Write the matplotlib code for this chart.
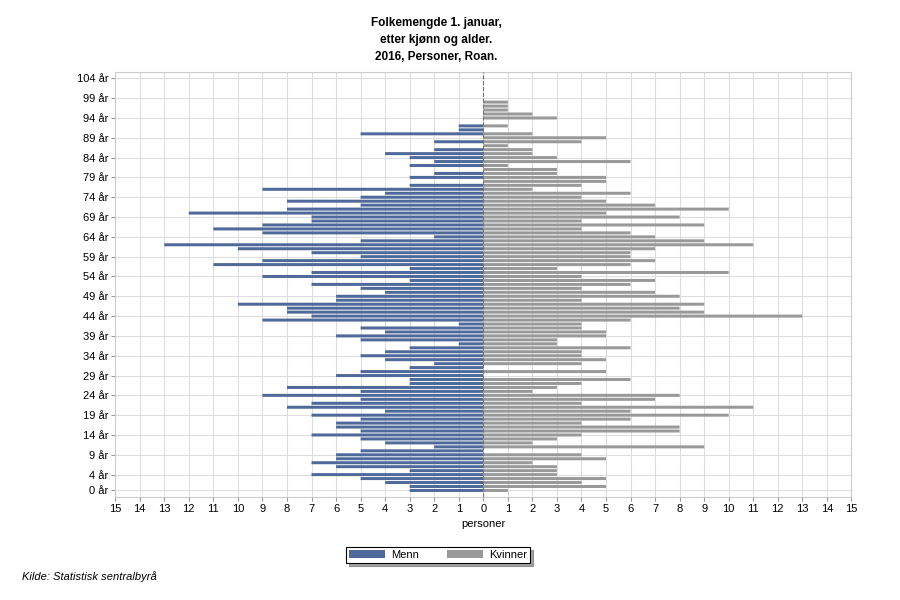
import matplotlib.pyplot as plt
import numpy as np

plt.rcParams['font.family'] = ['Liberation Sans', 'DejaVu Sans']

# Alder 0..104
ages = np.arange(0, 105)

# Antall menn per alder (0..98), resten 0
menn_vals = [3, 3, 4, 5, 7, 3, 6, 7, 6, 6,
             5, 2, 4, 5, 7, 5, 6, 6, 5, 7,
             4, 8, 7, 5, 9, 5, 8, 3, 3, 6,
             5, 3, 2, 4, 5, 4, 3, 1, 5, 6,
             4, 5, 1, 9, 7, 8, 8, 10, 6, 6,
             4, 5, 7, 3, 9, 7, 3, 11, 9, 5,
             7, 10, 13, 5, 2, 9, 11, 9, 7, 7,
             12, 8, 5, 8, 5, 4, 9, 3, 0, 3,
             2, 0, 3, 2, 3, 4, 2, 0, 2, 0,
             5, 1, 1, 0, 0, 0, 0, 0, 0]

# Antall kvinner per alder (0..98)
kvinner_vals = [1, 5, 4, 5, 3, 3, 3, 2, 5, 4,
                0, 9, 2, 3, 4, 8, 8, 4, 6, 10,
                6, 11, 4, 7, 8, 2, 3, 4, 6, 0,
                5, 0, 4, 5, 4, 4, 6, 3, 3, 5,
                5, 4, 4, 6, 13, 9, 8, 9, 4, 8,
                7, 4, 6, 7, 4, 10, 3, 6, 7, 6,
                6, 7, 11, 9, 7, 6, 4, 9, 4, 8,
                5, 10, 7, 5, 4, 6, 2, 4, 5, 5,
                3, 3, 1, 6, 3, 2, 2, 1, 4, 5,
                2, 0, 1, 0, 3, 2, 1, 1, 1]

menn = np.zeros(len(ages))
menn[:len(menn_vals)] = menn_vals
kvinner = np.zeros(len(ages))
kvinner[:len(kvinner_vals)] = kvinner_vals

ytick_ages = [0] + list(range(4, 105, 5))
xticks = np.arange(-15, 16)

blue = '#4f6a9a'
grey = '#999999'

fig = plt.figure(figsize=(9, 6), dpi=100)
ax = fig.add_axes([0.128, 0.172, 0.818, 0.708])

bm = ax.barh(ages, -menn, height=0.76, color=blue, label='Menn', zorder=3, linewidth=0)
bk = ax.barh(ages, kvinner, height=0.76, color=grey, label='Kvinner', zorder=3, linewidth=0)
for p in list(bm) + list(bk):
    p.set_snap(False)

ax.axvline(0, color='#777777', linestyle='--', linewidth=0.8, zorder=4)

ax.set_xlim(-15, 15)
ax.set_ylim(-1.6, 105.6)
ax.set_xticks(xticks)
ax.set_xticklabels([str(abs(v)) for v in xticks], fontsize=8)
ax.set_yticks(ytick_ages)
ax.set_yticklabels([f'{a} år' for a in ytick_ages], fontsize=8)
ax.tick_params(length=3, color='#999999', pad=2)
ax.grid(True, color='#dddddd', linewidth=0.8, zorder=0)
for s in ax.spines.values():
    s.set_color('#cccccc')

ax.set_xlabel('personer', fontsize=8, labelpad=4)

fig.text(0.485, 0.933, 'Folkemengde 1. januar,\netter kjønn og alder.\n2016, Personer, Roan.',
         ha='center', va='center', fontsize=8.5, fontweight='bold', linespacing=1.55)

leg = fig.legend(loc='center', bbox_to_anchor=(0.487, 0.075), ncol=2, fontsize=8,
                 frameon=True, fancybox=False, shadow=True, handlelength=3.2,
                 handleheight=0.8, columnspacing=2.5, borderpad=0.25, handletextpad=0.6)
leg.get_frame().set_edgecolor('black')
leg.get_frame().set_linewidth(0.8)

fig.text(0.024, 0.033, 'Kilde: Statistisk sentralbyrå', fontsize=8, style='italic')

plt.savefig('out.png', dpi=100)
